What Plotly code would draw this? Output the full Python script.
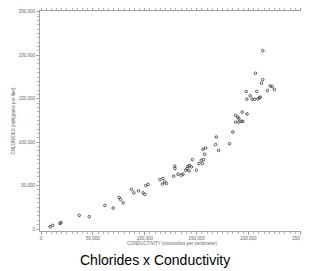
import plotly.graph_objects as go

conductivity = [8700, 11250, 18270, 19230, 36830, 46440, 61540, 69520, 75290, 76630,
                79130, 87210, 89420, 93940, 100000, 100960, 103170, 114420, 117590, 119230,
                120860, 117020, 128840, 129130, 127880, 132010, 135280, 136820, 139420, 140670,
                141630, 143260, 144900, 142590, 145860, 149710, 152210, 155470, 154510, 156720,
                156050, 158650, 157690, 168940, 168260, 171150, 181720, 184900, 187490, 189710,
                190670, 193930, 198550, 187490, 190670, 192970, 194510, 213740, 206720, 213740,
                212490, 220860, 222780, 224990, 218260, 197780, 207970, 201630, 198360, 203550,
                205760, 208930, 210570, 211240, 98360]
chlorides = [2600, 4240, 6540, 7230, 15710, 14110, 27180, 24090, 36360, 34070,
             30170, 45540, 41640, 43930, 39800, 50120, 51270, 57010, 58150, 54250,
             52420, 51620, 72260, 69620, 60790, 63090, 61940, 63090, 67670, 69620,
             72260, 73060, 71460, 66870, 79950, 67670, 75360, 75360, 79140, 79950,
             91760, 93250, 86030, 105870, 97150, 90610, 98300, 111600, 130760, 128810,
             126970, 134540, 132480, 123070, 123070, 123880, 123880, 205310, 179280, 172050,
             167810, 164820, 164020, 160580, 159430, 158290, 158290, 153350, 149450, 149450,
             149450, 149910, 151060, 151750, 41640]

x_ticks = [0, 50000, 100000, 150000, 200000, 250000]
y_ticks = [0, 50000, 100000, 150000, 200000, 250000]

fig = go.Figure()
fig.add_trace(go.Scatter(
    x=conductivity, y=chlorides, mode="markers",
    marker=dict(symbol="circle-open", size=2.6, color="#333333", line=dict(width=0.8, color="#333333")),
    showlegend=False, hoverinfo="skip"))

axis_common = dict(
    showgrid=False, zeroline=False, showline=True, linecolor="#a0a0a0", linewidth=1,
    mirror="allticks", ticks="outside", ticklen=3, tickcolor="#a0a0a0", tickwidth=1,
    tickfont=dict(family="Liberation Sans", size=4.5, color="#666666"),
    tickformat=",d", automargin=False,
    minor=dict(ticks="outside", ticklen=2, dtick=5000, tickcolor="#b5b5b5", tickwidth=1),
)

fig.update_xaxes(**axis_common, range=[-1000, 253500], tickvals=x_ticks,
                 title=dict(text="CONDUCTIVITY (micromhos per centimeter)",
                            font=dict(family="Liberation Sans", size=4.5, color="#666666"), standoff=1))
fig.update_yaxes(**axis_common, range=[-2300, 251000], tickvals=y_ticks,
                 title=dict(text="CHLORIDES (milligrams per liter)",
                            font=dict(family="Liberation Sans", size=4.5, color="#666666"), standoff=3))

fig.add_annotation(text="Chlorides x Conductivity", xref="paper", yref="paper",
                   x=0.434, y=-0.132, xanchor="center", yanchor="middle", showarrow=False,
                   font=dict(family="Liberation Sans", size=14, color="#000000"))

# page body has an 8px default margin, so the figure is sized to fit the 309x271 window
fig.update_layout(width=301, height=263, margin=dict(l=32, r=5, t=3, b=40),
                  paper_bgcolor="white", plot_bgcolor="white")

fig.write_html("out.html")
